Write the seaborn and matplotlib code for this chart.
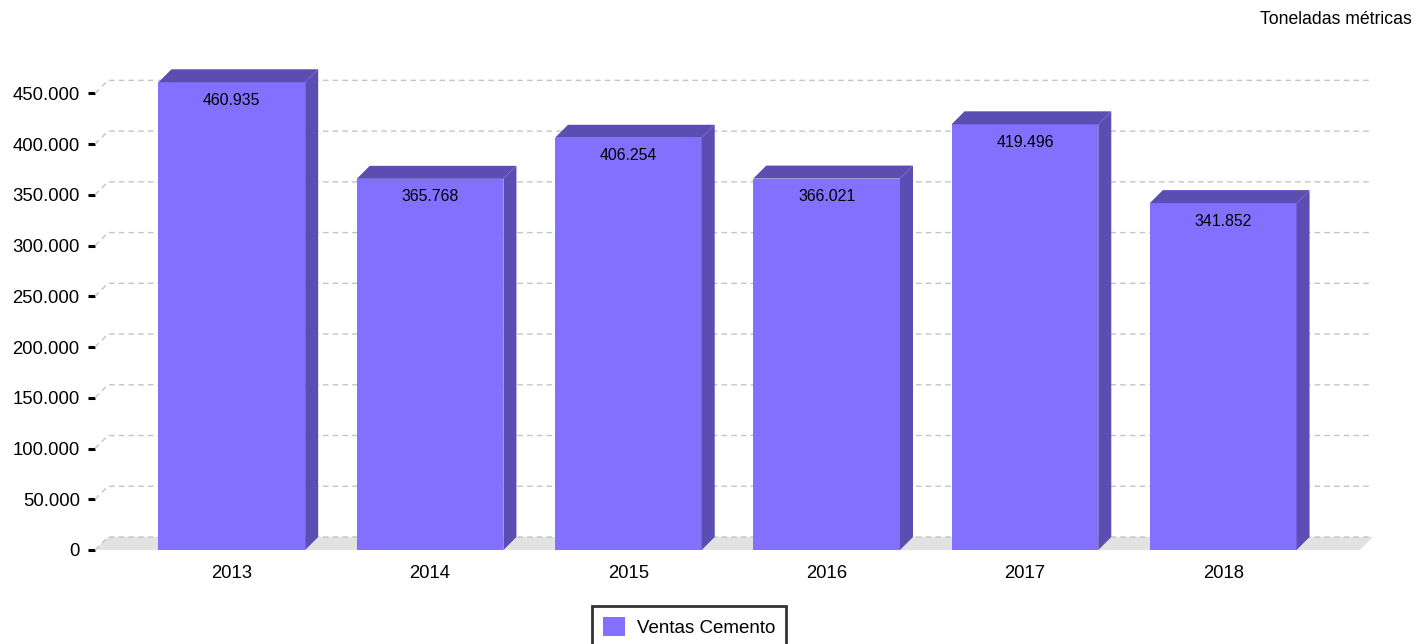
import matplotlib
matplotlib.use("Agg")
import matplotlib.pyplot as plt
from matplotlib.patches import Polygon, Patch
from matplotlib.ticker import FuncFormatter
import seaborn as sns

# Data
years = ["2013", "2014", "2015", "2016", "2017", "2018"]
ventas = [460935, 365768, 406254, 366021, 419496, 341852]
yticks = [0, 50000, 100000, 150000, 200000, 250000, 300000, 350000, 400000, 450000]

front_color = "#8470FF"
dark_color = "#5C4DB3"
floor_color = "#E2E2E2"
grid_color = "#C4C4C4"

sns.set_style("white")
plt.rcParams["font.family"] = ["Liberation Sans", "DejaVu Sans"]
plt.rcParams["text.color"] = "black"
plt.rcParams["xtick.labelcolor"] = "black"
plt.rcParams["ytick.labelcolor"] = "black"

W, H = 1424, 644
fig = plt.figure(figsize=(W / 100, H / 100), dpi=100)
ax_l, ax_r, ax_b, ax_t = 95, 1360, 550, 68
ax = fig.add_axes([ax_l / W, (H - ax_b) / H, (ax_r - ax_l) / W, (ax_b - ax_t) / H])

sns.barplot(x=years, y=ventas, color=front_color, width=0.74, saturation=1,
            ax=ax, zorder=3)

xmin, xmax = -0.69, 5.69
ymax = 475000
ax.set_xlim(xmin, xmax)
ax.set_ylim(0, ymax)

# depth of the fake 3D effect, in pixels -> data units
depth = 13
dx = depth * (xmax - xmin) / (ax_r - ax_l)
dy = depth * ymax / (ax_b - ax_t)

# floor
ax.add_patch(Polygon([(xmin, 0), (xmax, 0), (xmax + dx, dy), (xmin + dx, dy)],
                     closed=True, facecolor=floor_color, edgecolor="none",
                     zorder=1, clip_on=False))

# gridlines drawn on the back wall
for t in yticks:
    ax.plot([xmin, xmin + dx, xmax + dx], [t, t + dy, t + dy], color=grid_color,
            lw=1, ls=(0, (4, 3)), zorder=2, clip_on=False)

# 3D faces and value labels
for p, v in zip(ax.patches, ventas):
    x0 = p.get_x()
    x1 = x0 + p.get_width()
    h = p.get_height()
    p.set_edgecolor("none")
    p.set_clip_on(False)
    ax.add_patch(Polygon([(x1, 0), (x1, h), (x1 + dx, h + dy), (x1 + dx, dy)],
                         closed=True, facecolor=dark_color, edgecolor="none",
                         zorder=3, clip_on=False))
    ax.add_patch(Polygon([(x0, h), (x1, h), (x1 + dx, h + dy), (x0 + dx, h + dy)],
                         closed=True, facecolor=dark_color, edgecolor="none",
                         zorder=3, clip_on=False))
    ax.annotate(f"{v:,}".replace(",", "."), xy=(x0 + p.get_width() / 2, h),
                xytext=(0, -18), textcoords="offset pixels", ha="center",
                va="center", fontsize=11.4, color="black", zorder=5)

sns.despine(ax=ax, left=True, bottom=True)
ax.set_yticks(yticks)
ax.yaxis.set_major_formatter(FuncFormatter(lambda v, pos: f"{int(v):,}".replace(",", ".")))
ax.tick_params(axis="y", length=5, width=2.2, color="black", pad=6, labelsize=13.3, left=True)
ax.tick_params(axis="x", length=0, pad=11, labelsize=13.3)
ax.set_xlabel("")
ax.set_ylabel("")
ax.grid(False)

fig.text(1412 / W, 1 - 20 / H, "Toneladas métricas", ha="right", va="center", fontsize=12.7)

leg = fig.legend(handles=[Patch(facecolor=front_color, edgecolor="none", label="Ventas Cemento")],
                 loc="upper center", bbox_to_anchor=(689 / W, 1 - 606 / H), fontsize=13.5,
                 frameon=True, fancybox=False, handlelength=1.2, handleheight=1.2,
                 borderpad=0.6, handletextpad=0.6, borderaxespad=0)
leg.get_frame().set_edgecolor("black")
leg.get_frame().set_linewidth(2)

fig.savefig("out.png", dpi=100)
